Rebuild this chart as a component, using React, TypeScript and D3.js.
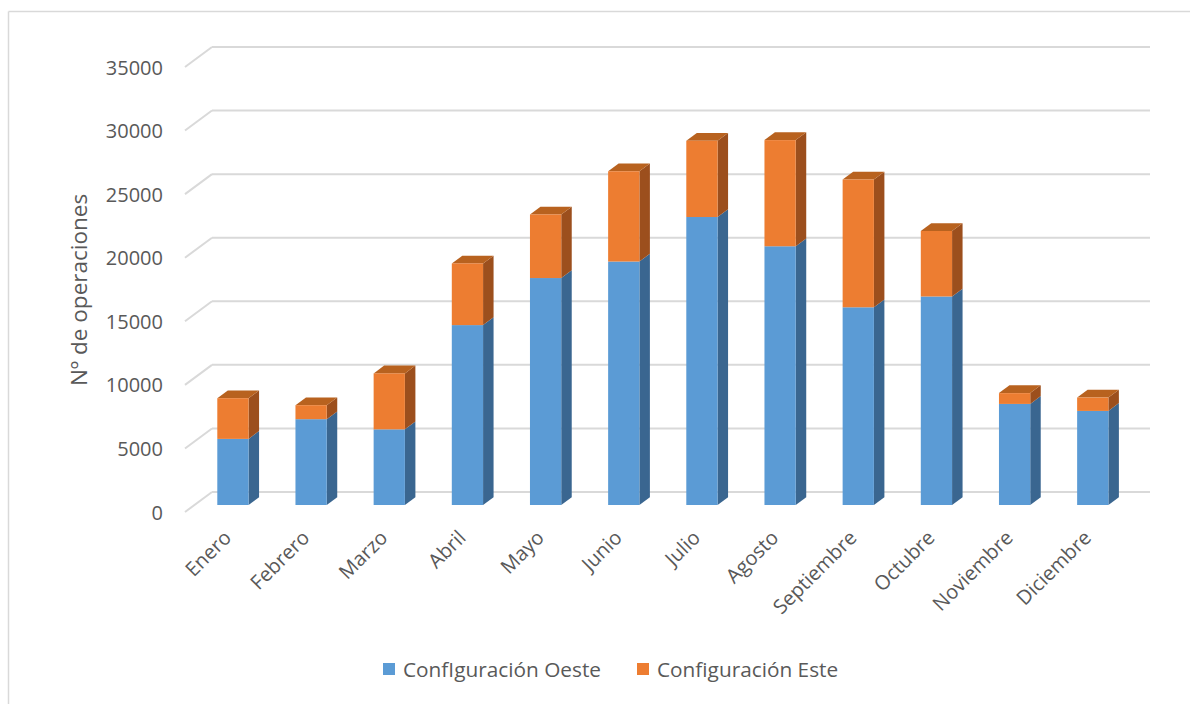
import React from "react";
import * as d3 from "d3";

const months = [
  "Enero", "Febrero", "Marzo", "Abril", "Mayo", "Junio",
  "Julio", "Agosto", "Septiembre", "Octubre", "Noviembre", "Diciembre",
];
const oeste = [5200, 6750, 5950, 14150, 17850, 19150, 22650, 20350, 15550, 16400, 7950, 7400];
const este = [3200, 1100, 4400, 4850, 5000, 7100, 6000, 8350, 10050, 5150, 850, 1050];
const yTicks = [0, 5000, 10000, 15000, 20000, 25000, 30000, 35000];
const seriesNames = ["ConfIguración Oeste", "Configuración Este"];

const W = 1190;
const H = 704;
const FONT = "'Open Sans', 'Noto Sans', sans-serif";
const TEXT = "#595959";
const GRID = "#d9d9d9";

// oblique depth of the chart box (back wall vs front edge)
const wallDX = 27;
const wallDY = 20;
// bars sit partway into the depth
const barDX = 10.5;
const barDY = 7.8;
const barPlaneShiftY = 13; // bar base is 13px below back wall base
const barPlaneShiftX = (barPlaneShiftY * wallDX) / wallDY;

const colors = {
  oeste: { front: "#5b9bd5", side: "#3a6690", top: "#4a86c0" },
  este: { front: "#ed7d31", side: "#9c4f1d", top: "#b8621f" },
};

export default function App() {
  const backLeft = 212;
  const backRight = 1150;
  const y = d3.scaleLinear().domain([0, 35000]).range([505, 60]);
  const yBack = (v: number) => y(v) - barPlaneShiftY;

  const x = d3
    .scaleBand<string>()
    .domain(months)
    .range([backLeft - barPlaneShiftX, backRight - barPlaneShiftX])
    .padding(0);
  const barW = x.bandwidth() * 0.4;

  const segment = (i: number, v0: number, v1: number, c: { front: string; side: string; top: string }, drawTop: boolean) => {
    const cx = (x(months[i]) as number) + x.bandwidth() / 2 - 0.6;
    const x0 = cx - barW / 2;
    const x1 = cx + barW / 2;
    const yb = y(v0);
    const yt = y(v1);
    const side = `M${x1},${yb} L${x1 + barDX},${yb - barDY} L${x1 + barDX},${yt - barDY} L${x1},${yt} Z`;
    const top = `M${x0},${yt} L${x0 + barDX},${yt - barDY} L${x1 + barDX},${yt - barDY} L${x1},${yt} Z`;
    return (
      <g key={`${i}-${v0}`}>
        <path d={side} fill={c.side} />
        {drawTop && <path d={top} fill={c.top} />}
        <rect x={x0} y={yt} width={barW} height={yb - yt} fill={c.front} />
      </g>
    );
  };

  return (
    <svg
      width={W}
      height={H}
      style={{ position: "absolute", left: 0, top: 0, background: "#fff" }}
      fontFamily={FONT}
    >
      {/* chart frame */}
      <line x1={8.5} y1={11.5} x2={W} y2={11.5} stroke={GRID} strokeWidth={1.5} />
      <line x1={8.5} y1={11.5} x2={8.5} y2={H} stroke={GRID} strokeWidth={1.5} />

      {/* gridlines: back wall + left side wall */}
      {yTicks.map((t) => {
        const yb = yBack(t);
        return (
          <g key={t}>
            <line x1={backLeft} y1={yb} x2={backRight} y2={yb} stroke={GRID} strokeWidth={2} />
            <line x1={backLeft - wallDX} y1={yb + wallDY} x2={backLeft} y2={yb} stroke={GRID} strokeWidth={2} />
            <text
              x={163}
              y={yb + wallDY}
              textAnchor="end"
              dominantBaseline="central"
              fontSize={20}
              fill={TEXT}
            >
              {t}
            </text>
          </g>
        );
      })}

      {/* stacked 3D columns */}
      {months.map((m, i) => (
        <g key={m}>
          {segment(i, 0, oeste[i], colors.oeste, false)}
          {segment(i, oeste[i], oeste[i] + este[i], colors.este, true)}
        </g>
      ))}

      {/* category labels */}
      {months.map((m) => {
        const cx = (x(m) as number) + x.bandwidth() / 2 - 1;
        const ly = 539;
        return (
          <text
            key={m}
            x={cx}
            y={ly}
            transform={`rotate(-45, ${cx}, ${ly})`}
            textAnchor="end"
            fontSize={20}
            fill={TEXT}
          >
            {m}
          </text>
        );
      })}

      {/* axis title */}
      <text
        x={0}
        y={0}
        transform={`translate(87, 290) rotate(-90)`}
        textAnchor="middle"
        fontSize={22.5}
        fill={TEXT}
      >
        Nº de operaciones
      </text>

      {/* legend */}
      <rect x={383} y={663} width={12} height={12} fill={colors.oeste.front} />
      <text x={403} y={669} dominantBaseline="central" fontSize={20.8} fill={TEXT}>
        {seriesNames[0]}
      </text>
      <rect x={637} y={663} width={12} height={12} fill={colors.este.front} />
      <text x={657} y={669} dominantBaseline="central" fontSize={20.8} fill={TEXT}>
        {seriesNames[1]}
      </text>
    </svg>
  );
}
